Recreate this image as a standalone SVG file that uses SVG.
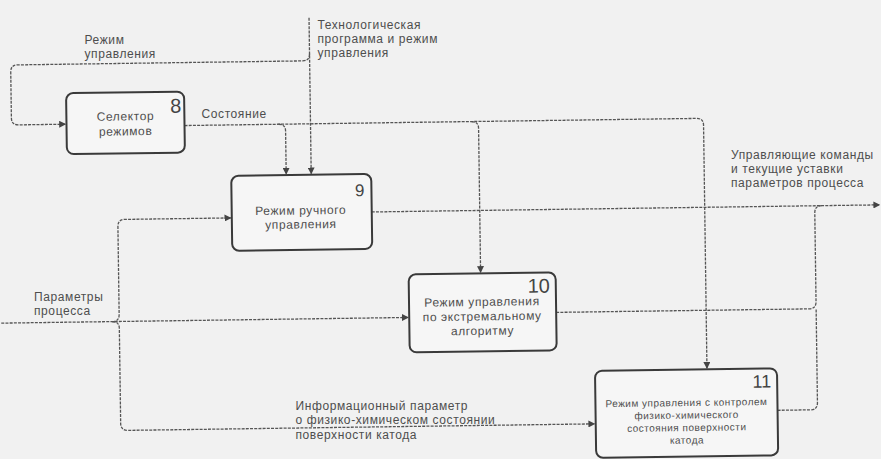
<svg xmlns="http://www.w3.org/2000/svg" width="881" height="459" viewBox="0 0 881 459">
<style>
.bg{fill:#f1f1f1}
.box{fill:#f6f6f6;stroke:#3a3a3a;stroke-width:2}
.c{fill:none;stroke:#555;stroke-width:1.3;stroke-dasharray:3 1.2}
.t{font-family:"Liberation Sans",Arial,sans-serif;font-size:12px;letter-spacing:0.6px;fill:#4e4e4e}
.m{text-anchor:middle}
.s{font-size:10px;letter-spacing:0.5px}
.n{font-family:"Liberation Sans",Arial,sans-serif;fill:#444;text-anchor:end}
</style>
<defs>
<marker id="ah" viewBox="0 0 10 10" refX="9" refY="5" markerWidth="7" markerHeight="7" markerUnits="userSpaceOnUse" orient="auto">
<path d="M0,0 L10,5 L0,10 z" fill="#444"/>
</marker>
</defs>
<rect class="bg" x="0" y="0" width="881" height="459"/>
<g transform="rotate(-0.8 440 230)">
<g id="connectors">
<path class="c" d="M312,16 V172" marker-end="url(#ah)"/>
<path class="c" d="M312,52 Q312,59 305,59 H20 Q13,59 13,66 V112 Q13,119 20,119 H67" marker-end="url(#ah)"/>
<path class="c" d="M186,122 H698 Q705,122 705,129 V372" marker-end="url(#ah)"/>
<path class="c" d="M280,122 Q287,122 287,129 V172" marker-end="url(#ah)"/>
<path class="c" d="M473,122 Q480,122 480,129 V273" marker-end="url(#ah)"/>
<path class="c" d="M372,211 H880" marker-end="url(#ah)"/>
<path class="c" d="M555,314 H808 Q815,314 815,307 V218 Q815,211 822,211"/>
<path class="c" d="M775,415 H808 Q815,415 815,408 V314"/>
<path class="c" d="M0,317 H407" marker-end="url(#ah)"/>
<path class="c" d="M111,317 Q118,317 118,310 V222 Q118,215 125,215 H231" marker-end="url(#ah)"/>
<path class="c" d="M111,317 Q118,317 118,324 V419 Q118,426 125,426 H592" marker-end="url(#ah)"/>
</g>
<g id="node8">
<rect class="box" x="68" y="88" width="118" height="61" rx="7"/>
<text class="n" x="183" y="109" font-size="20">8</text>
<text class="t m" x="127" y="116">Селектор</text>
<text class="t m" x="127" y="131">режимов</text>
</g>
<g id="node9">
<rect class="box" x="232" y="173" width="140" height="75" rx="7"/>
<text class="n" x="365" y="195" font-size="17">9</text>
<text class="t m" x="301" y="212.5">Режим ручного</text>
<text class="t m" x="301" y="226.5">управления</text>
</g>
<g id="node10">
<rect class="box" x="408" y="274" width="147" height="78" rx="7"/>
<text class="n" x="549" y="294" font-size="20">10</text>
<text class="t m" x="481" y="306.5">Режим управления</text>
<text class="t m" x="481" y="321">по экстремальному</text>
<text class="t m" x="481" y="335.5">алгоритму</text>
</g>
<g id="node11">
<rect class="box" x="593" y="373" width="182" height="87" rx="7"/>
<text class="n" x="769" y="392" font-size="18">11</text>
<text class="t m s" x="684" y="409.5">Режим управления с контролем</text>
<text class="t m s" x="684" y="422">физико-химического</text>
<text class="t m s" x="684" y="434.5">состояния поверхности</text>
<text class="t m s" x="684" y="447">катода</text>
</g>
</g>
<g id="labels">
<text class="t" x="84.5" y="43.5">Режим</text>
<text class="t" x="84.5" y="57.5">управления</text>
<text class="t" x="317.5" y="29">Технологическая</text>
<text class="t" x="317.5" y="43">программа и режим</text>
<text class="t" x="317.5" y="57">управления</text>
<text class="t" x="201.5" y="117.5">Состояние</text>
<text class="t" x="731" y="159">Управляющие команды</text>
<text class="t" x="731" y="173">и текущие уставки</text>
<text class="t" x="731" y="187">параметров процесса</text>
<text class="t" x="34" y="301">Параметры</text>
<text class="t" x="34" y="315">процесса</text>
<text class="t" x="295.5" y="410">Информационный параметр</text>
<text class="t" x="295.5" y="424">о физико-химическом состоянии</text>
<text class="t" x="295.5" y="438.5">поверхности катода</text>
</g>
</svg>
